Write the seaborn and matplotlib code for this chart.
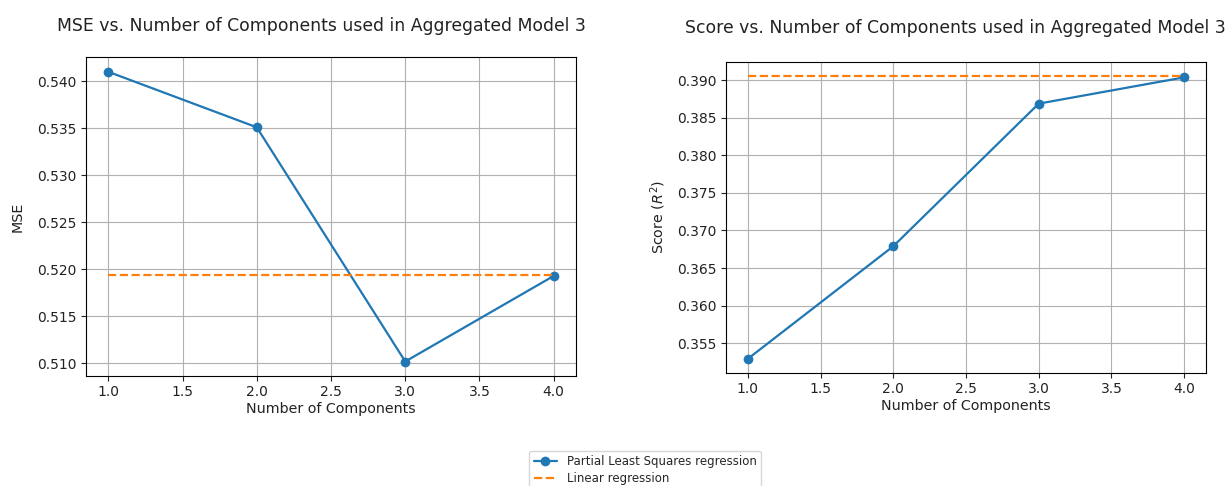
import matplotlib
matplotlib.use("Agg")
import matplotlib.pyplot as plt
import seaborn as sns
import pandas as pd

# Data
components = [1.0, 2.0, 3.0, 4.0]
pls_mse = [0.5410, 0.5351, 0.5102, 0.5193]
linear_mse = 0.5194
pls_score = [0.3529, 0.3679, 0.3869, 0.3904]
linear_score = 0.3906

x_ticks = [1.0, 1.5, 2.0, 2.5, 3.0, 3.5, 4.0]
mse_ticks = [0.510, 0.515, 0.520, 0.525, 0.530, 0.535, 0.540]
score_ticks = [0.355, 0.360, 0.365, 0.370, 0.375, 0.380, 0.385, 0.390]

sns.set_theme(style="ticks", rc={
    "axes.grid": True,
    "grid.color": "#b0b0b0",
    "grid.linewidth": 0.8,
    "axes.edgecolor": "black",
    "axes.linewidth": 0.8,
    "xtick.labelsize": 10,
    "ytick.labelsize": 10,
    "axes.labelsize": 10.3,
    "xtick.color": "#222222",
    "ytick.color": "#222222",
    "axes.labelcolor": "#222222",
})
plt.rcParams["font.family"] = ["DejaVu Sans"]

W, H = 1227, 486
fig = plt.figure(figsize=(W / 100, H / 100), dpi=100)

def axes_at(left, top, right, bottom):
    return fig.add_axes([left / W, 1 - bottom / H, (right - left) / W, (bottom - top) / H])

ax1 = axes_at(86, 57.3, 576, 376)
ax2 = axes_at(726, 61.7, 1206, 373)

blue = "#1f77b4"
orange = "#ff7f0e"

df_mse = pd.DataFrame({"n": components, "pls": pls_mse, "lin": [linear_mse] * len(components)})
df_score = pd.DataFrame({"n": components, "pls": pls_score, "lin": [linear_score] * len(components)})

for ax, df in ((ax1, df_mse), (ax2, df_score)):
    sns.lineplot(data=df, x="n", y="pls", ax=ax, color=blue, marker="o", markersize=7,
                 markeredgewidth=0, linewidth=1.6, label="Partial Least Squares regression",
                 legend=False)
    sns.lineplot(data=df, x="n", y="lin", ax=ax, color=orange, linestyle="--", linewidth=1.6,
                 label="Linear regression", legend=False)
    ax.set_xticks(x_ticks)
    ax.set_xticklabels([f"{v:.1f}" for v in x_ticks])
    ax.set_xlabel("Number of Components", labelpad=2)
    ax.tick_params(length=3.5, width=0.8, pad=3)

ax1.set_yticks(mse_ticks)
ax1.set_yticklabels([f"{v:.3f}" for v in mse_ticks])
ax1.set_ylabel("MSE", labelpad=9)
ax1.set_title("MSE vs. Number of Components used in Aggregated Model 3", fontsize=12.4,
              pad=19, color="#222222", x=0.4806)

ax2.set_yticks(score_ticks)
ax2.set_yticklabels([f"{v:.3f}" for v in score_ticks])
ax2.set_ylabel("Score ($R^2$)", labelpad=7)
ax2.set_title("Score vs. Number of Components used in Aggregated Model 3", fontsize=12.4,
              pad=20.5, color="#222222", x=0.477)

handles, labels = ax1.get_legend_handles_labels()
fig.legend(handles, labels, loc="upper center", bbox_to_anchor=(645 / W, 1 - 451 / H),
           fontsize=8.5, frameon=True, framealpha=0.8, edgecolor="#cccccc",
           borderpad=0.35, borderaxespad=0, handlelength=2.0, labelspacing=0.35)

fig.savefig("out.png", dpi=100)
